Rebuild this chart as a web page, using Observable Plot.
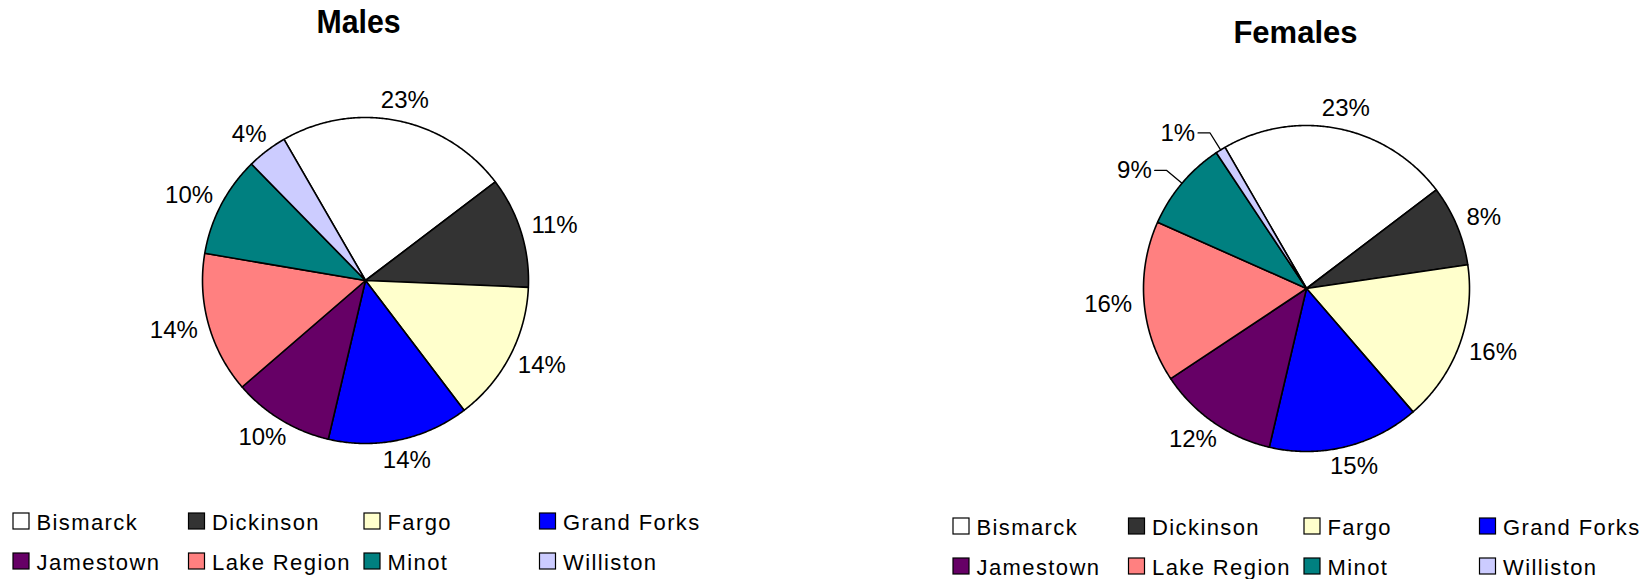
<!DOCTYPE html>
<html>
<head>
<meta charset="utf-8">
<script src="https://cdn.jsdelivr.net/npm/d3@7"></script>
<script src="https://cdn.jsdelivr.net/npm/@observablehq/plot@0.6"></script>
<style>
  html, body { margin: 0; padding: 0; background: #fff; }
  #chart svg { display: block; }
</style>
</head>
<body>
<div id="chart"></div>
<script>
// Campus shares of enrolled students (percent), by sex
const campuses = ["Bismarck", "Dickinson", "Fargo", "Grand Forks", "Jamestown", "Lake Region", "Minot", "Williston"];
const campusColors = ["#FFFFFF", "#333333", "#FFFFCC", "#0000FF", "#660066", "#FF8080", "#008080", "#CCCCFF"];
const malesPct = [23, 11, 14, 14, 10, 14, 10, 4];
const femalesPct = [23, 8, 16, 15, 12, 16, 9, 1];
const panelTitles = ["Males", "Females"];

// ---- layout ----
const W = 1645, H = 579;
const rad = d => d * Math.PI / 180;
const startAngle = rad(-30);
const FONT = "'Liberation Sans', Arial, Helvetica, sans-serif";
const LABEL_SIZE = 24, LEGEND_SIZE = 22;

const charts = [
  {title: panelTitles[0], values: malesPct, center: [365, 280], radius: 163,
   titleAt: [358, 32], titleSize: 34, titleSqueeze: 0.89, legendAt: [13, 513], callouts: []},
  {title: panelTitles[1], values: femalesPct, center: [1306, 288], radius: 163,
   titleAt: [1295, 42], titleSize: 32, titleSqueeze: 0.97, legendAt: [953, 518], callouts: ["Minot", "Williston"]}
];

const ctx = document.createElement("canvas").getContext("2d");
ctx.font = `${LABEL_SIZE}px ${FONT}`;
const textWidth = s => ctx.measureText(s).width;

const pie = d3.pie().sort(null).startAngle(startAngle).endAngle(startAngle + 2 * Math.PI);
const polar = ([cx, cy], r, a) => ({x: cx + r * Math.sin(a), y: cy - r * Math.cos(a)});

const wedgeMarks = [];
const labelsMid = [], labelsEnd = [], leaders = [];
const legendBoxes = [], legendTexts = [], titles = [];

charts.forEach((c, ci) => {
  const arcs = pie(c.values);
  arcs.forEach((a, i) => {
    // wedge outline: centre -> arc -> centre
    const pts = [{x: c.center[0], y: c.center[1]}];
    const n = Math.max(2, Math.ceil((a.endAngle - a.startAngle) / rad(0.5)));
    for (let k = 0; k <= n; k++) {
      pts.push(polar(c.center, c.radius, a.startAngle + (a.endAngle - a.startAngle) * k / n));
    }
    pts.push({x: c.center[0], y: c.center[1]});
    wedgeMarks.push(Plot.line(pts, {
      x: "x", y: "y", fill: campusColors[i], stroke: "#000",
      strokeWidth: 1.6, strokeLinejoin: "round"
    }));

    // percentage label
    const mid = (a.startAngle + a.endAngle) / 2;
    const text = `${a.data}%`;
    if (c.callouts.includes(campuses[i])) {
      const edge = polar(c.center, c.radius, mid);
      const elbow = polar(c.center, c.radius + 20, mid);
      const id = `${ci}-${i}`;
      leaders.push({id, x: elbow.x - 12, y: elbow.y}, {id, x: elbow.x, y: elbow.y}, {id, x: edge.x, y: edge.y});
      labelsEnd.push({x: elbow.x - 15, y: elbow.y, text});
    } else {
      const ux = Math.sin(mid), uy = -Math.cos(mid);
      const p = polar(c.center, c.radius + 12, mid);
      const w = textWidth(text), h = 17;
      labelsMid.push({x: p.x + ux * w / 2, y: p.y + uy * h / 2, text});
    }
  });

  // legend: 4 columns x 2 rows
  campuses.forEach((name, i) => {
    const col = i % 4, row = Math.floor(i / 4);
    const x0 = c.legendAt[0] + col * 175.5;
    const y0 = c.legendAt[1] + row * 40;
    legendBoxes.push({x1: x0, x2: x0 + 16, y1: y0, y2: y0 + 16, fill: campusColors[i]});
    legendTexts.push({x: x0 + 23, y: y0 + 9.5, text: name});
  });

  titles.push({x: c.titleAt[0], y: c.titleAt[1] - 0.32 * c.titleSize, text: c.title, size: c.titleSize});
});

const svg = Plot.plot({
  width: W,
  height: H,
  margin: 0,
  x: {domain: [0, W], range: [0, W], axis: null},
  y: {domain: [0, H], range: [0, H], axis: null},
  color: {type: "identity"},
  style: {fontFamily: FONT, background: "#fff", color: "#000"},
  marks: [
    ...wedgeMarks,
    Plot.line(leaders, {x: "x", y: "y", z: "id", stroke: "#000", strokeWidth: 1.3}),
    Plot.text(labelsMid, {x: "x", y: "y", text: "text", fontSize: LABEL_SIZE, fill: "#000", textAnchor: "middle"}),
    Plot.text(labelsEnd, {x: "x", y: "y", text: "text", fontSize: LABEL_SIZE, fill: "#000", textAnchor: "end"}),
    Plot.rect(legendBoxes, {x1: "x1", x2: "x2", y1: "y1", y2: "y2", fill: "fill", stroke: "#000", strokeWidth: 1.2}),
    Plot.text(legendTexts, {x: "x", y: "y", text: "text", fontSize: LEGEND_SIZE, fill: "#000", textAnchor: "start"}),
    Plot.text(titles.slice(0, 1), {x: "x", y: "y", text: "text", fontSize: titles[0].size, fontWeight: "bold", fill: "#000"}),
    Plot.text(titles.slice(1), {x: "x", y: "y", text: "text", fontSize: titles[1].size, fontWeight: "bold", fill: "#000"})
  ]
});

// typographic touches: spaced legend names, narrowed bold titles
d3.select(svg).selectAll("text").each(function () {
  const t = this.textContent;
  if (campuses.includes(t)) {
    this.style.letterSpacing = "1.4px";
  }
  const chart = charts.find(c => c.title === t);
  if (chart) {
    const tr = this.getAttribute("transform");
    if (tr) {
      this.setAttribute("transform", `${tr} scale(${chart.titleSqueeze},1)`);
    } else {
      const x = +this.getAttribute("x") || 0, y = +this.getAttribute("y") || 0;
      this.setAttribute("transform", `translate(${x},${y}) scale(${chart.titleSqueeze},1) translate(${-x},${-y})`);
    }
  }
});

document.getElementById("chart").appendChild(svg);
</script>
</body>
</html>
